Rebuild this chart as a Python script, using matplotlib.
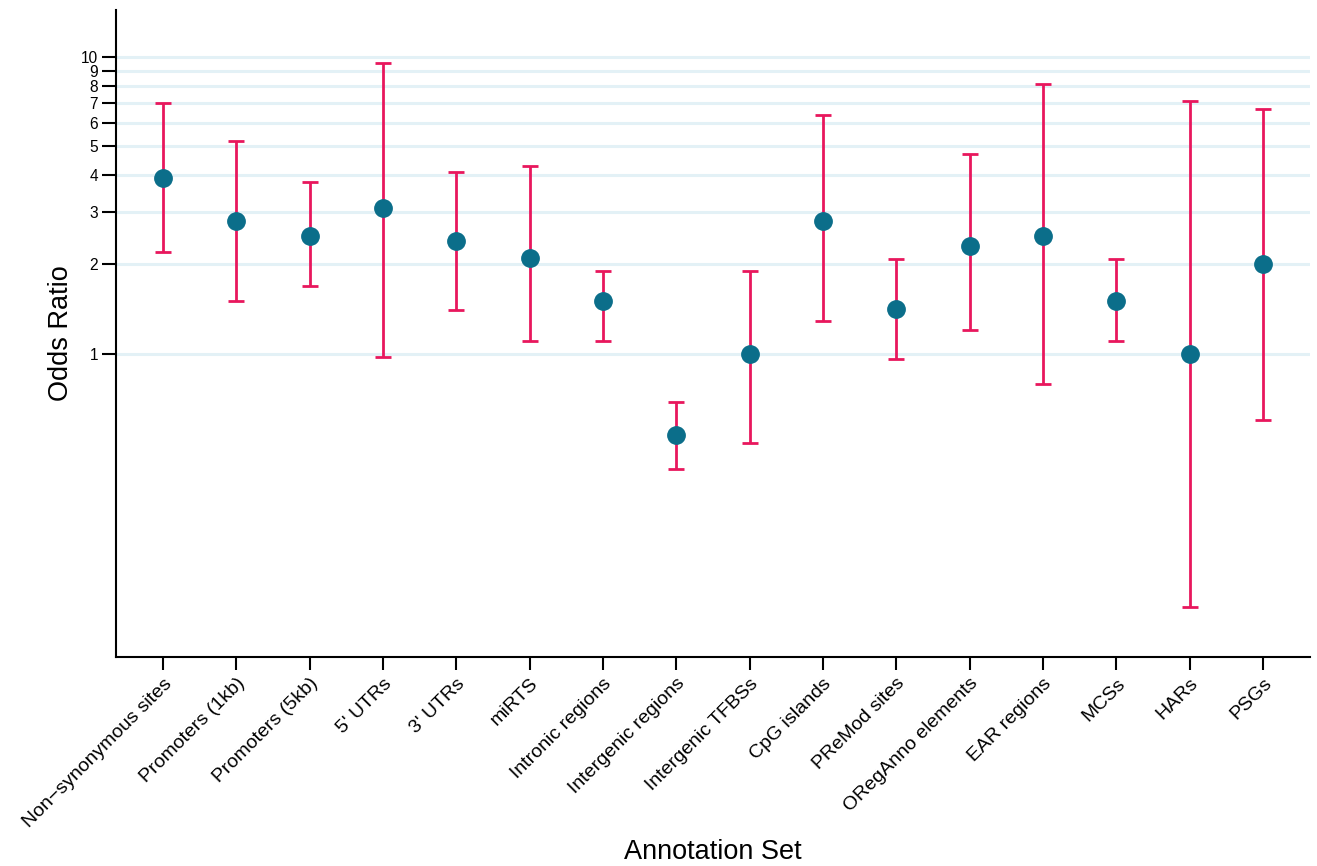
import numpy as np
import matplotlib
matplotlib.use("Agg")
import matplotlib.pyplot as plt
from matplotlib.ticker import FixedLocator, NullLocator

plt.rcParams['font.family'] = ['Liberation Sans', 'DejaVu Sans']

categories = ["Non\u2212synonymous sites", "Promoters (1kb)", "Promoters (5kb)", "5' UTRs",
              "3' UTRs", "miRTS", "Intronic regions", "Intergenic regions",
              "Intergenic TFBSs", "CpG islands", "PReMod sites", "ORegAnno elements",
              "EAR regions", "MCSs", "HARs", "PSGs"]
odds = [3.9, 2.8, 2.5, 3.1, 2.4, 2.1, 1.5, 0.53, 1.0, 2.8, 1.41, 2.31, 2.5, 1.5, 1.0, 2.0]
upper = [7.0, 5.2, 3.8, 9.55, 4.1, 4.3, 1.9, 0.69, 1.9, 6.38, 2.09, 4.7, 8.1, 2.09, 7.1, 6.7]
lower = [2.2, 1.5, 1.69, 0.975, 1.4, 1.1, 1.1, 0.41, 0.5, 1.29, 0.96, 1.2, 0.79, 1.1, 0.14, 0.6]
yticks = [1, 2, 3, 4, 5, 6, 7, 8, 9, 10]

fig = plt.figure(figsize=(13.17, 8.66), dpi=100)
ax = fig.add_axes([116/1317, 1-657/866, (1310-116)/1317, (657-10)/866])

x = np.arange(len(categories))
odds = np.array(odds)
yerr = [odds - np.array(lower), np.array(upper) - odds]

for t in yticks:
    ax.axhline(t, color='#e3f1f6', lw=2.2, zorder=0)

ax.errorbar(x, odds, yerr=yerr, fmt='none', ecolor='#e8175d', elinewidth=2,
            capsize=6, capthick=2, zorder=2)
ax.plot(x, odds, 'o', color='#0b6e8a', markersize=12.5, zorder=3)

ax.set_yscale('log')
ax.set_ylim(0.095, 14.4)
ax.set_xlim(-0.64, 15.64)
ax.yaxis.set_major_locator(FixedLocator(yticks))
ax.yaxis.set_minor_locator(NullLocator())
ax.set_yticklabels([str(t) for t in yticks], fontsize=11.2)
ax.set_xticks(x)
ax.set_xticklabels(categories, rotation=45, ha='right', rotation_mode='anchor', fontsize=14)

for s in ['top', 'right']:
    ax.spines[s].set_visible(False)
for s in ['left', 'bottom']:
    ax.spines[s].set_linewidth(1.5)
ax.tick_params(axis='y', length=10, width=1.5, pad=3)
ax.tick_params(axis='x', length=9, width=1.5, pad=4)

ax.set_ylabel("Odds Ratio", fontsize=19.5, labelpad=5)
ax.set_xlabel("Annotation Set", fontsize=19.5, labelpad=6)

fig.savefig("out.png", dpi=100)
